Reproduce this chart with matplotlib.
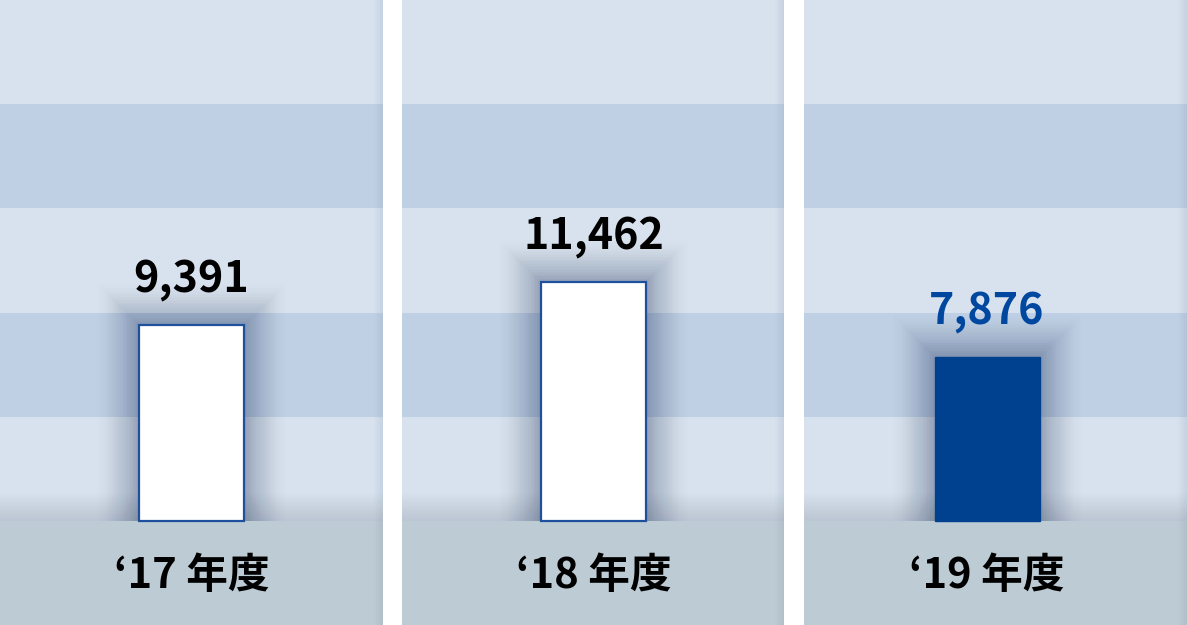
import matplotlib
matplotlib.use('Agg')
from matplotlib import pyplot as plt

plt.rcParams['font.family'] = ['Noto Sans CJK JP', 'DejaVu Sans']

# ---------------- data ----------------
years = ['\u201817 年度', '\u201818 年度', '\u201819 年度']
values = [9391, 11462, 7876]
value_labels = ['9,391', '11,462', '7,876']

# ---------------- style ----------------
light = '#d8e2ee'
dark = '#bfcfe4'
strip = '#bdcbd4'
blue = '#00418f'
edge = '#1f509d'
band_step = 5000
y_top = 25000
y_bottom = -5000

W, H = 1187, 625
fig = plt.figure(figsize=(W / 100, H / 100), dpi=100)
fig.patch.set_facecolor('white')

# panel pixel ranges and bar centres
panels = [(0, 383), (402, 784), (804, 1187)]
centres = [191.5, 593.5, 987]
bw = 105
k = (y_top - y_bottom) / H  # data units per pixel

for i in range(3):
    x0, x1 = panels[i]
    ax = fig.add_axes([x0 / W, 0, (x1 - x0) / W, 1])
    ax.set_xlim(x0, x1)
    ax.set_ylim(y_bottom, y_top)
    ax.axis('off')

    # 背景の帯
    for j, y in enumerate(range(0, y_top, band_step)):
        ax.axhspan(y, y + band_step, color=light if j % 2 == 0 else dark, lw=0, zorder=0)
    # bottom shade above strip
    for s in range(14):
        ax.axhspan(0, (s + 1) * 2.0 * k, color='#1a2f5a', alpha=0.008, lw=0, zorder=1)
    ax.axhspan(y_bottom, 0, color=strip, lw=0, zorder=3)
    # slight shade at right edge of the panel
    for s in range(6):
        ax.axvspan(x1 - (s + 1) * 1.5, x1, color='#1a2f5a', alpha=0.012, lw=0, zorder=3.5)

    # shadow around bar (alpha fades outward)
    n = 30
    for s in range(1, n + 1):
        pad = s * 1.5
        a = 0.022 * (1 - s / (n + 1))
        ax.bar(centres[i], values[i] + pad * k, width=bw + 2 * pad, bottom=0,
               color='#1a2f5a', alpha=a, lw=0, zorder=2)

    if i == 2:
        ax.bar(centres[i], values[i], width=bw, color=blue, edgecolor=blue, lw=1, zorder=4)
        tc = '#0047a0'
    else:
        ax.bar(centres[i], values[i], width=bw, color='white', edgecolor=edge, lw=1.6, zorder=4)
        tc = 'black'

    ax.annotate(value_labels[i], (centres[i], values[i]), xytext=(0, 24),
                textcoords='offset points', ha='center', va='baseline',
                fontsize=31, fontweight='bold', color=tc, zorder=5)
    ax.text(centres[i], -2650, years[i], ha='center', va='center',
            fontsize=30, fontweight='bold', color='black', zorder=5)

plt.savefig('out.png', dpi=100)
